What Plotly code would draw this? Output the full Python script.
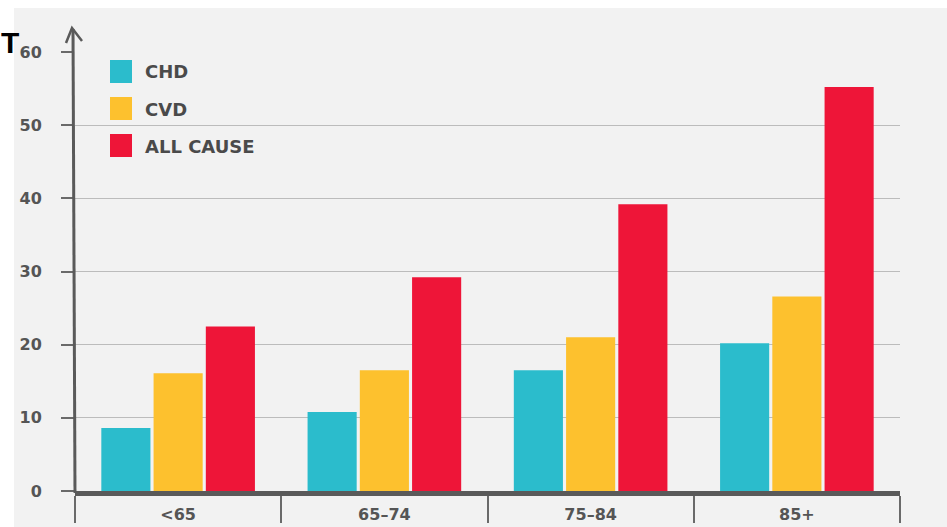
import plotly.graph_objects as go

categories = ["<65", "65\u201374", "75\u201384", "85+"]
series_names = ["CHD", "CVD", "ALL CAUSE"]
chd = [8.6, 10.8, 16.5, 20.2]
cvd = [16.1, 16.5, 21.0, 26.6]
all_cause = [22.5, 29.2, 39.2, 55.2]
series_values = [chd, cvd, all_cause]
colors = ["#2bbccc", "#fdc12e", "#ee1538"]
y_ticks = [0, 10, 20, 30, 40, 50, 60]

W, H = 947, 527
L, R, T, B = 75, 47, 52, 36
pw, ph = W - L - R, H - T - B

def px(x):
    return (x - L) / pw

def py(y):
    return (H - B - y) / ph

fig = go.Figure()
for name, vals, col in zip(series_names, series_values, colors):
    fig.add_trace(go.Bar(x=categories, y=vals, name=name, marker=dict(color=col, line=dict(width=0)),
                         showlegend=False))

font_family = "DejaVu Sans"
shapes = []
annotations = []
# grey panel background
shapes.append(dict(type="rect", xref="paper", yref="paper", x0=px(14), x1=px(W + 5), y0=py(H + 5), y1=py(8),
                   fillcolor="#f2f2f2", line=dict(width=0), layer="below"))
# y-axis line with arrow
shapes.append(dict(type="line", xref="paper", yref="paper", x0=px(75), x1=px(73), y0=py(493), y1=py(29),
                   line=dict(color="#5a5a5a", width=3)))
shapes.append(dict(type="path", xref="paper", yref="paper",
                   path=f"M {px(66)} {py(43)} L {px(72)} {py(28)} L {px(82)} {py(41)}",
                   line=dict(color="#5a5a5a", width=2.5)))
# custom legend
for i, (name, col) in enumerate(zip(series_names, colors)):
    y0 = 60 + i * 37
    shapes.append(dict(type="rect", xref="paper", yref="paper", x0=px(110), x1=px(132), y0=py(y0 + 23), y1=py(y0),
                       fillcolor=col, line=dict(width=0)))
    annotations.append(dict(xref="paper", yref="paper", x=px(143), y=py(y0 + 12), text=name, showarrow=False,
                            xanchor="left", yanchor="middle",
                            font=dict(family=font_family, size=18, color="#4a4a4a", weight="bold")))
annotations.append(dict(xref="paper", yref="paper", x=px(0), y=py(42), text="T", showarrow=False,
                        xanchor="left", yanchor="middle", xshift=-1,
                        font=dict(family="Liberation Sans", size=30, color="#000000", weight="bold")))

fig.update_layout(
    width=W, height=H,
    margin=dict(l=L, r=R, t=T, b=B),
    paper_bgcolor="#ffffff",
    plot_bgcolor="rgba(0,0,0,0)",
    barmode="group", bargap=0.24, bargroupgap=0.06,
    shapes=shapes, annotations=annotations,
    xaxis=dict(range=[-0.5, 3.5], showline=True, linecolor="#5a5a5a", linewidth=5, automargin=False,
               ticks="outside", tickson="boundaries", ticklen=27, tickwidth=2, tickcolor="#6a6a6a",
               ticklabelstandoff=5,
               showgrid=False, tickfont=dict(family=font_family, size=16, color="#555555", weight="bold")),
    yaxis=dict(range=[0, 60], tickvals=y_ticks, showline=False, ticks="outside", ticklen=13, tickwidth=2,
               tickcolor="#6a6a6a", showgrid=True, gridcolor="#bcbcbc", gridwidth=1, zeroline=False,
               ticklabelstandoff=16, automargin=False,
               tickfont=dict(family=font_family, size=16, color="#555555", weight="bold")),
)

fig.write_html("out.html")
